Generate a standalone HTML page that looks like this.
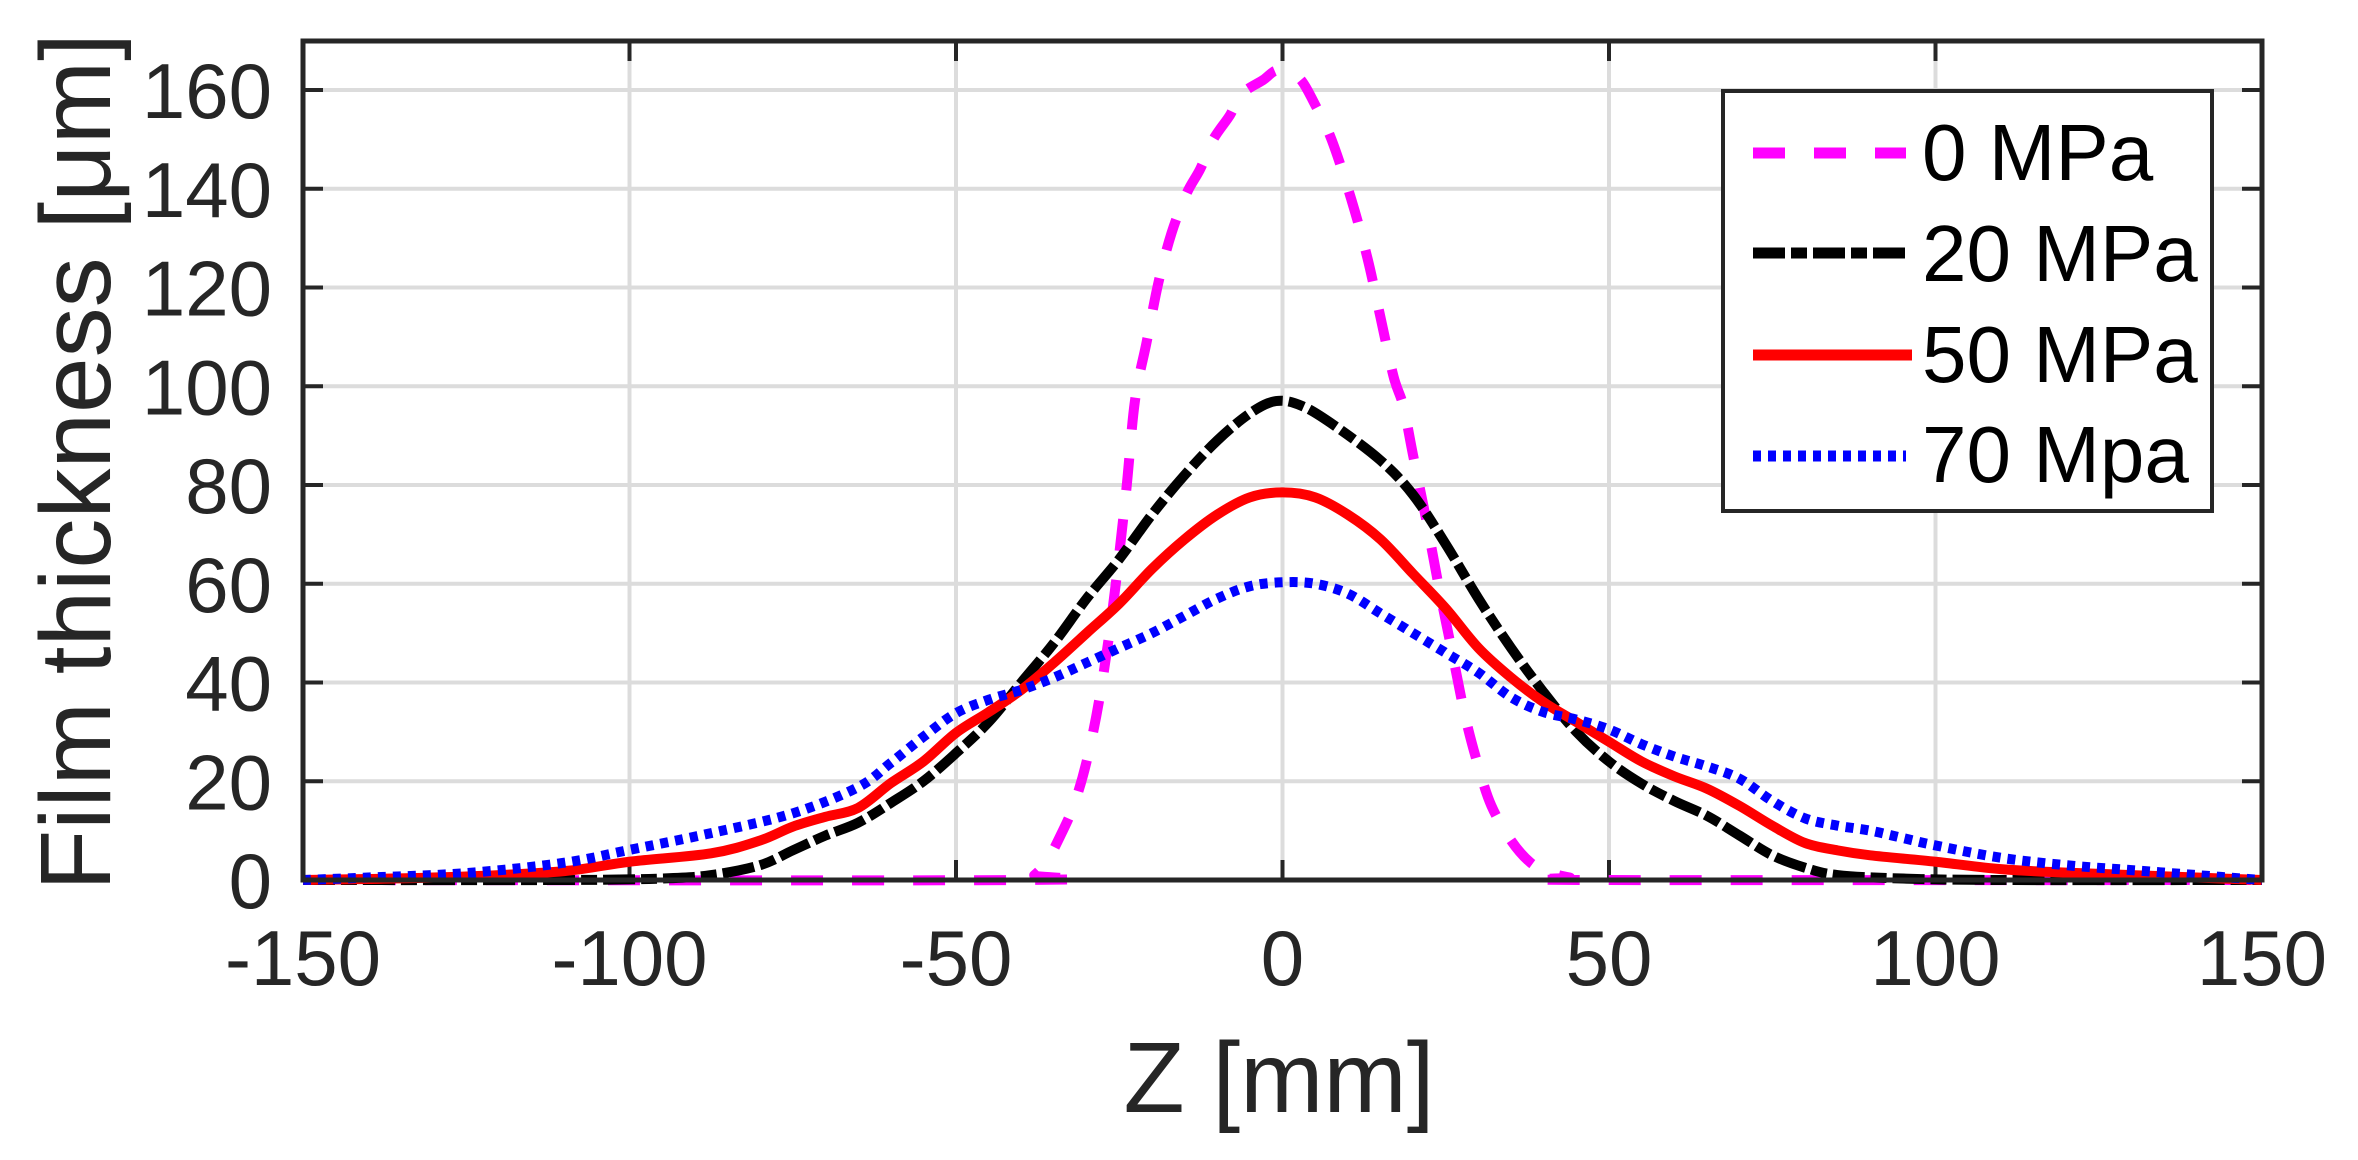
<!DOCTYPE html>
<html><head><meta charset="utf-8"><style>
html,body{margin:0;padding:0;background:#fff;}
svg{display:block;}
text{font-family:"Liberation Sans",Arial,sans-serif;}
</style></head><body>
<svg id="s" width="2358" height="1160" viewBox="0 0 2358 1160" xmlns="http://www.w3.org/2000/svg">
<rect width="2358" height="1160" fill="#fff"/>
<g id="grid" stroke="#dcdcdc" stroke-width="4"></g>
<g id="ticks" stroke="#262626" stroke-width="4"></g>
<g id="labels" fill="#262626" font-size="78"></g>
<g id="series" fill="none" stroke-width="10" stroke-linejoin="round"></g>
<rect x="303" y="41" width="1959" height="839" fill="none" stroke="#262626" stroke-width="5"/>
<g>
<rect x="1723" y="91" width="489" height="420" fill="#fff" stroke="#262626" stroke-width="4"/>
<line x1="1753" y1="153" x2="1906" y2="153" stroke="#ff00ff" stroke-width="11" stroke-dasharray="32 29"/>
<line x1="1753" y1="253" x2="1906" y2="253" stroke="#000" stroke-width="11" stroke-dasharray="32 6 16 6"/>
<line x1="1753" y1="355" x2="1912" y2="355" stroke="#ff0000" stroke-width="11"/>
<line x1="1753" y1="456" x2="1906" y2="456" stroke="#0000ff" stroke-width="11" stroke-dasharray="8 7"/>
<g fill="#000" font-size="80">
<text x="1922" y="180">0 MPa</text>
<text x="1922" y="281">20 MPa</text>
<text x="1922" y="382">50 MPa</text>
<text x="1922" y="482">70 Mpa</text>
</g>
</g>
<text x="1279" y="1112" font-size="100" fill="#262626" text-anchor="middle">Z [mm]</text>
<text transform="translate(110,462) rotate(-90)" font-size="100" fill="#262626" text-anchor="middle">Film thickness [μm]</text>
</svg>
<script>
var NS="http://www.w3.org/2000/svg";
function X(m){return 1282.5+6.53*m;}
function Y(v){return 880-4.9375*v;}
function el(p,t,a,txt){var e=document.createElementNS(NS,t);for(var k in a)e.setAttribute(k,a[k]);if(txt!==undefined)e.textContent=txt;document.getElementById(p).appendChild(e);return e;}
for(var m=-100;m<=100;m+=50){el("grid","line",{x1:X(m),x2:X(m),y1:41,y2:880});}
for(var v=20;v<=160;v+=20){el("grid","line",{x1:303,x2:2262,y1:Y(v),y2:Y(v)});}
for(var m=-150;m<=150;m+=50){el("ticks","line",{x1:X(m),x2:X(m),y1:880,y2:860});el("ticks","line",{x1:X(m),x2:X(m),y1:41,y2:61});
 el("labels","text",{x:X(m),y:985,"text-anchor":"middle"},String(m));}
for(var v=0;v<=160;v+=20){el("ticks","line",{x1:303,x2:323,y1:Y(v),y2:Y(v)});el("ticks","line",{x1:2262,x2:2242,y1:Y(v),y2:Y(v)});
 el("labels","text",{x:272,y:Y(v)+28,"text-anchor":"end"},String(v));}
var D={
mag:[[-150,0],[-40,0],[-38,1],[-36,4],[-34,9],[-32,15],[-30,24],[-28,37],[-26,55],[-24,78],[-22.6,97],[-20.8,109],[-19,121],[-17,131],[-14.7,139],[-12.6,144],[-10.6,150],[-8,155],[-6.5,159],[-3,162],[-0.7,164],[2.5,162.5],[5,157],[7.5,150],[10.5,138],[13,126],[15,114],[17,102],[18.5,96],[20,86],[22,73],[24,59],[26,46],[28,33],[30,23],[32,15],[35,8],[38,3.5],[41,1.5],[44,0.5],[47,0],[150,0]],
blk:[[-150,0],[-110,0],[-95,0.3],[-87.5,1],[-80,3],[-75,6],[-70,9],[-65,11.6],[-60,15.6],[-55,20],[-50,25.7],[-45,32],[-40,40],[-35,48],[-30,57],[-25,65],[-20,74],[-15,82],[-10,89],[-5,94.5],[-1,97],[3,96],[8,92],[15,85],[20,78],[25,68],[30,57],[35,47],[40,38],[45,30],[50,24],[55,19.5],[60,16],[65,13],[70,9],[75,5],[80,2.5],[85,1],[95,0.3],[110,0],[150,0]],
red:[[-150,0],[-140,0.2],[-125,0.7],[-110,1.8],[-100,3.7],[-87.5,5.4],[-80,8],[-75,10.8],[-70,12.8],[-65,14.6],[-60,19.6],[-55,24],[-50,29.8],[-45,34],[-40,38.5],[-35,44],[-30,50],[-25,56],[-20,63],[-15,69],[-10,74],[-5,77.5],[0,78.5],[5,77.5],[10,74],[15,69],[20,62],[25,55],[30,47],[35,41],[40,36],[45,32],[50,28],[55,24],[60,21],[65,18.5],[70,15],[75,11],[80,7.5],[85,6],[90,5],[100,3.7],[110,2.2],[120,1.5],[130,1],[140,0.5],[150,0]],
blu:[[-150,0],[-140,0.5],[-125,1.4],[-110,3.5],[-100,6.1],[-87.5,9.5],[-75,13.5],[-65,18.8],[-60,23.7],[-55,29],[-50,33.8],[-45,36.5],[-40,38.5],[-35,41],[-30,44],[-25,47],[-20,50],[-15,53.5],[-10,57],[-5,59.5],[0,60.3],[5,60],[10,58],[15,54],[20,50],[25,46],[30,42],[35,37],[40,34],[45,32.5],[50,30.5],[55,27.5],[60,25],[65,23],[70,20.5],[75,16],[80,12.5],[85,11],[90,10],[95,8.5],[100,7],[110,4.5],[120,3],[130,2],[140,1],[150,0]]};
function path(pts){var p=pts.map(function(q){return[X(q[0]),Y(q[1])];});var d="M"+p[0][0]+","+p[0][1];
 for(var i=0;i<p.length-1;i++){var p0=p[i-1]||p[i],p1=p[i],p2=p[i+1],p3=p[i+2]||p2;
  var c1x=p1[0]+(p2[0]-p0[0])/6,c1y=p1[1]+(p2[1]-p0[1])/6,c2x=p2[0]-(p3[0]-p1[0])/6,c2y=p2[1]-(p3[1]-p1[1])/6;
  d+=" C"+c1x+","+c1y+" "+c2x+","+c2y+" "+p2[0]+","+p2[1];}return d;}
el("series","path",{d:path(D.mag),stroke:"#ff00ff","stroke-dasharray":"32 29"});
el("series","path",{d:path(D.blk),stroke:"#000","stroke-dasharray":"32 6 16 6"});
el("series","path",{d:path(D.red),stroke:"#ff0000"});
el("series","path",{d:path(D.blu),stroke:"#0000ff","stroke-dasharray":"8 7"});
</script>
</body></html>
